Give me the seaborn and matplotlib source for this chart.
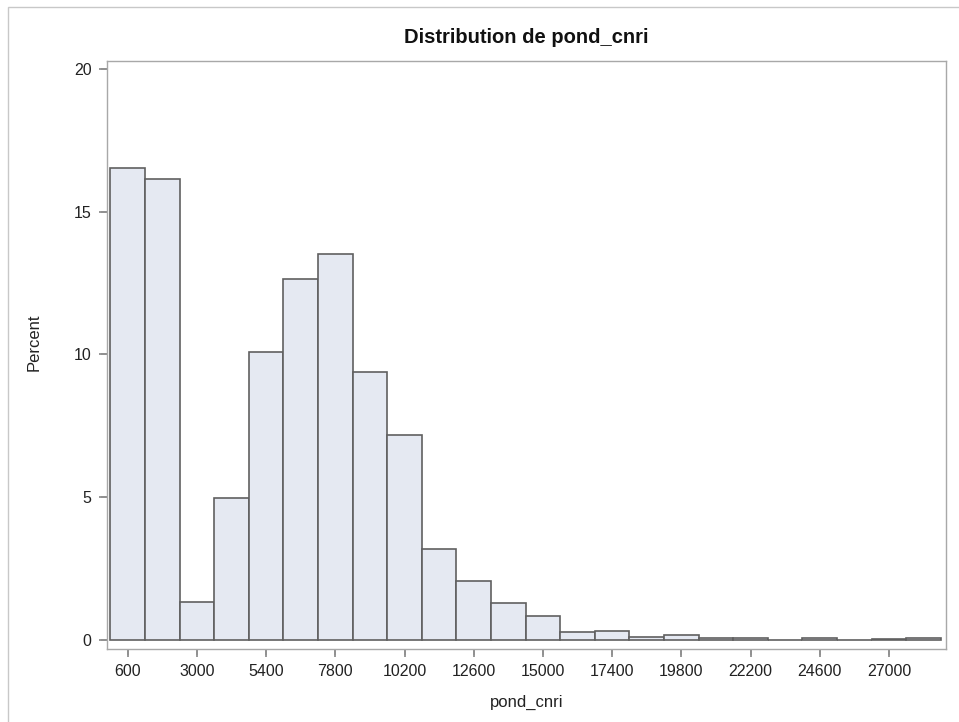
import matplotlib
matplotlib.use("Agg")
import matplotlib.pyplot as plt
import matplotlib.transforms as mtransforms
import pandas as pd
import seaborn as sns

# bin midpoints and percentages
midpoints = [600, 1800, 3000, 4200, 5400, 6600, 7800, 9000, 10200, 11400,
             12600, 13800, 15000, 16200, 17400, 18600, 19800, 21000, 22200,
             23400, 24600, 25800, 27000, 28200]
percent = [16.52, 16.15, 1.33, 4.97, 10.09, 12.64, 13.52, 9.38, 7.17, 3.18,
           2.07, 1.30, 0.83, 0.26, 0.32, 0.10, 0.16, 0.08, 0.08,
           0.01, 0.07, 0.01, 0.02, 0.07]
xticks = [600, 3000, 5400, 7800, 10200, 12600, 15000, 17400, 19800, 22200, 24600, 27000]
yticks = [0, 5, 10, 15, 20]
bin_width = 1200

df = pd.DataFrame({"pond_cnri": midpoints, "pct": percent})

sns.set_style("ticks")
plt.rcParams['font.family'] = ['Liberation Sans', 'DejaVu Sans']

fig = plt.figure(figsize=(9.59, 7.22), dpi=100)
ax = fig.add_axes([107 / 959, 1 - 649 / 722, 839 / 959, 588 / 722])

sns.histplot(data=df, x="pond_cnri", weights="pct", binwidth=bin_width,
             binrange=(midpoints[0] - bin_width / 2, midpoints[-1] + bin_width / 2),
             stat="count", color="#e5e9f2", edgecolor="#606060", linewidth=1.2,
             alpha=1, ax=ax)

ax.set_xlim(-120, 28980)
ax.set_ylim(-0.32, 20.28)
ax.set_xticks(xticks)
ax.set_yticks(yticks)
ax.set_yticklabels([str(v) for v in yticks])
ax.tick_params(axis="both", which="major", direction="out", length=6, width=1.3,
               color="#909090", labelsize=11.5, labelcolor="#222222", pad=5)
for s in ax.spines.values():
    s.set_visible(True)
    s.set_color("#a8a8a8")
    s.set_linewidth(1)

# tick marks drawn again as short lines so they show up for sure
tx = mtransforms.blended_transform_factory(ax.transData, ax.transAxes)
ty = mtransforms.blended_transform_factory(ax.transAxes, ax.transData)
for v in xticks:
    ax.plot([v, v], [0, -6 / 588], transform=tx, color="#909090", lw=1.2,
            clip_on=False, solid_capstyle="butt")
for v in yticks:
    ax.plot([0, -6 / 839], [v, v], transform=ty, color="#909090", lw=1.2,
            clip_on=False, solid_capstyle="butt")

ax.set_xlabel("pond_cnri", fontsize=12, color="#222222", labelpad=11)
ax.set_ylabel("Percent", fontsize=12, color="#222222")
ax.yaxis.set_label_coords(-0.078, 0.522)
ax.set_title("Distribution de pond_cnri", fontsize=14.5, fontweight="bold",
             color="#111111", pad=13)

# light frame around the whole graph
fig.patches.append(plt.Rectangle((8 / 959, -0.1), 1.2, 1 - 7 / 722 + 0.1,
                                 transform=fig.transFigure, fill=False,
                                 edgecolor="#c8c8c8", linewidth=1))

fig.savefig("out.png", dpi=100)
